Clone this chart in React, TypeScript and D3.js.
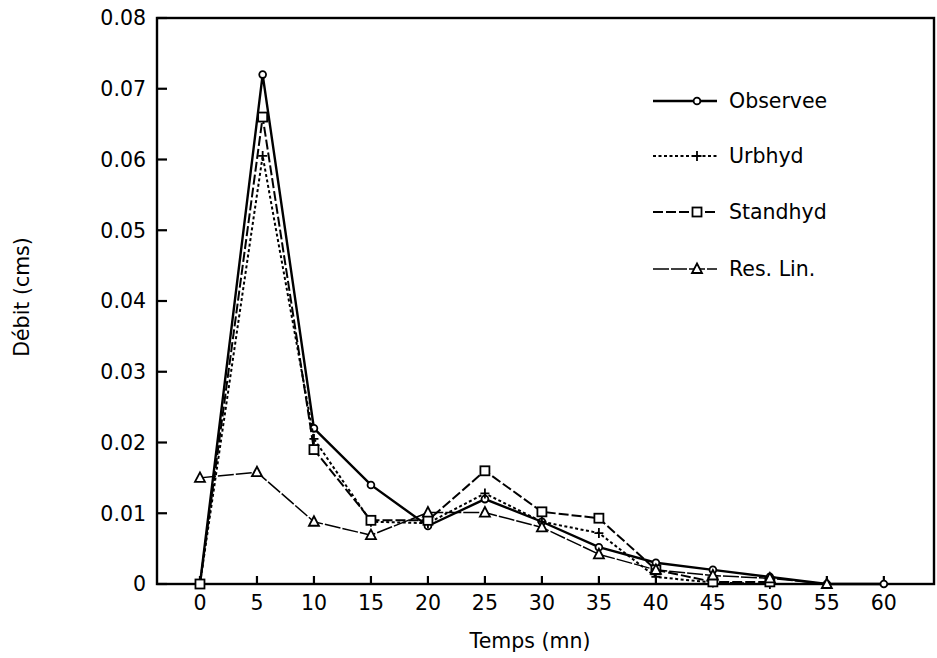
import React from "react";
import * as d3 from "d3";

const times = [0, 5.5, 10, 15, 20, 25, 30, 35, 40, 45, 50, 55, 60];
const timesRes = [0, 5, 10, 15, 20, 25, 30, 35, 40, 45, 50, 55];
const observee = [0, 0.072, 0.022, 0.014, 0.0082, 0.012, 0.0088, 0.0052, 0.003, 0.002, 0.001, 0, 0];
const urbhyd = [0, 0.0605, 0.0205, 0.0088, 0.0086, 0.0128, 0.0088, 0.0072, 0.001, 0.0002, 0, 0];
const standhyd = [0, 0.066, 0.019, 0.009, 0.009, 0.016, 0.0102, 0.0093, 0.002, 0.0003, 0.0003];
const resLin = [0.015, 0.0158, 0.0088, 0.0069, 0.0101, 0.0101, 0.008, 0.0042, 0.002, 0.0012, 0.0008, 0];

const xTicks = [0, 5, 10, 15, 20, 25, 30, 35, 40, 45, 50, 55, 60];
const yTicks = [0, 0.01, 0.02, 0.03, 0.04, 0.05, 0.06, 0.07, 0.08];
const legendNames = ["Observee", "Urbhyd", "Standhyd", "Res. Lin."];

const FONT = "'DejaVu Sans', 'Liberation Sans', Arial, sans-serif";
const FS = 20.5;

export default function App() {
  const left = 157, right = 934, top = 18, bottom = 584;
  const x = d3.scaleLinear().domain([-3.77, 64.4]).range([left, right]);
  const y = d3.scaleLinear().domain([0, 0.08]).range([bottom, top]);

  const mk = (xs: number[], ys: number[]) =>
    ys.map((v, i) => [xs[i], v] as [number, number]);
  const line = d3
    .line<[number, number]>()
    .x((d) => x(d[0]))
    .y((d) => y(d[1]));

  const series = [
    { name: legendNames[0], pts: mk(times, observee), dash: "none", w: 2.4, marker: "circle" },
    { name: legendNames[1], pts: mk(times, urbhyd), dash: "3,2.5", w: 2, marker: "plus" },
    { name: legendNames[2], pts: mk(times, standhyd), dash: "10,3", w: 2, marker: "square" },
    { name: legendNames[3], pts: mk(timesRes, resLin), dash: "16,2", w: 1.5, marker: "triangle" },
  ];

  const drawMarker = (m: string, cx: number, cy: number, key: string) => {
    const s = { fill: "#fff", stroke: "#000", strokeWidth: 1.8 } as any;
    if (m === "circle") return <circle key={key} cx={cx} cy={cy} r={3.4} {...s} />;
    if (m === "square") return <rect key={key} x={cx - 4.5} y={cy - 4.5} width={9} height={9} {...s} />;
    if (m === "triangle")
      return (
        <path key={key} d={`M${cx},${cy - 5.5} L${cx + 5},${cy + 4} L${cx - 5},${cy + 4} Z`} {...s} />
      );
    return (
      <path key={key} d={`M${cx - 4.5},${cy} H${cx + 4.5} M${cx},${cy - 5} V${cy + 5}`} stroke="#000" strokeWidth={1.8} fill="none" />
    );
  };

  const legendY = [101, 156, 212, 269];

  return (
    <svg
      width={937}
      height={658}
      style={{ display: "block", background: "#fff", position: "absolute", left: 0, top: 0 }}
    >
      <rect x={left} y={top} width={right - left} height={bottom - top} fill="none" stroke="#000" strokeWidth={2.4} />
      {yTicks.map((t) => (
        <g key={"y" + t}>
          <line x1={left} x2={left + 10} y1={y(t)} y2={y(t)} stroke="#000" strokeWidth={2.2} />
          <text x={146} y={y(t)} dy="0.36em" textAnchor="end" fontFamily={FONT} fontSize={FS}>
            {t === 0 ? "0" : t.toFixed(2)}
          </text>
        </g>
      ))}
      {xTicks.map((t) => (
        <g key={"x" + t}>
          <line x1={x(t)} x2={x(t)} y1={bottom} y2={bottom - 8} stroke="#000" strokeWidth={2.2} />
          <text x={x(t)} y={610} textAnchor="middle" fontFamily={FONT} fontSize={FS}>
            {t}
          </text>
        </g>
      ))}
      <text x={530} y={648} textAnchor="middle" fontFamily={FONT} fontSize={FS}>
        Temps (mn)
      </text>
      <text
        transform={`translate(29,297) rotate(-90)`}
        textAnchor="middle"
        fontFamily={FONT}
        fontSize={FS}
      >
        Débit (cms)
      </text>
      {series.map((s) => (
        <g key={s.name}>
          <path d={line(s.pts) || ""} fill="none" stroke="#000" strokeWidth={s.w} strokeDasharray={s.dash} />
          {s.pts.map((p, i) => drawMarker(s.marker, x(p[0]), y(p[1]), s.name + i))}
        </g>
      ))}
      {series.map((s, i) => (
        <g key={"lg" + s.name}>
          <line x1={653} x2={717} y1={legendY[i]} y2={legendY[i]} stroke="#000" strokeWidth={s.w} strokeDasharray={s.dash} />
          {drawMarker(s.marker, 697, legendY[i], "lgm" + i)}
          <text x={729} y={legendY[i]} dy="0.36em" fontFamily={FONT} fontSize={FS}>
            {s.name}
          </text>
        </g>
      ))}
    </svg>
  );
}
